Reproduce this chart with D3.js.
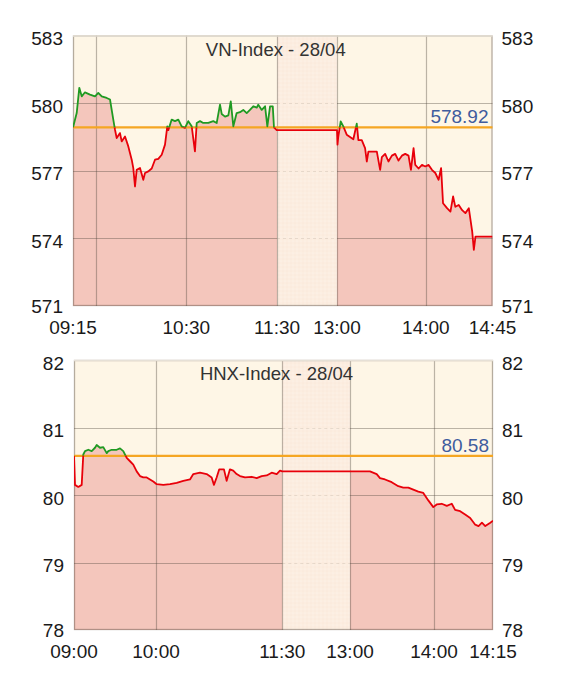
<!DOCTYPE html>
<html><head><meta charset="utf-8">
<script src="https://cdn.jsdelivr.net/npm/d3@7"></script>
<style>
body{margin:0;background:#fff;}
svg{display:block;font-family:"Liberation Sans",Arial,Helvetica,sans-serif;}
</style>
</head><body>
<svg id="c" width="569" height="675"></svg>
<script>
// ---------- DATA ----------
const vnTitle = "VN-Index - 28/04";
const vnRef = 578.92;
const vnTimes = ["09:15:00","09:17:27","09:19:10","09:20:46","09:22:56","09:26:15","09:29:34","09:31:44","09:34:00","09:37:18",
"09:39:29","09:41:40","09:42:48","09:43:55","09:46:06","09:47:13","09:49:25","09:51:36","09:53:51","09:54:54",
"09:56:02","09:57:09","09:59:20","10:01:31","10:02:39","10:04:50","10:07:05","10:09:16","10:11:27","10:13:42",
"10:15:53","10:17:24","10:18:04","10:20:18","10:22:30","10:24:42","10:26:54","10:29:06","10:31:18","10:33:33",
"10:35:42","10:36:52","10:39:03","10:41:12","10:44:32","10:47:51","10:50:06","10:52:17","10:53:24","10:55:36",
"10:57:48","10:59:24","11:01:06","11:03:18","11:05:30","11:07:42","11:09:57","11:12:06","11:14:18","11:16:36",
"11:17:36","11:19:54","11:22:06","11:23:36","11:25:24","11:27:12","11:28:00","11:29:48","11:30:00","13:00:00",
"13:00:20","13:00:53","13:02:30","13:04:16","13:06:34","13:08:48","13:11:02","13:13:21","13:14:26","13:16:44",
"13:18:58","13:20:07","13:21:12","13:23:30","13:26:54","13:29:08","13:30:17","13:32:31","13:34:45","13:37:04",
"13:39:18","13:41:32","13:43:50","13:46:04","13:48:18","13:49:56","13:51:42","13:52:51","13:55:05","13:57:23",
"13:59:37","14:01:52","14:04:06","14:06:24","14:08:36","14:10:18","14:11:36","14:14:18","14:16:36","14:18:24",
"14:19:54","14:22:12","14:24:30","14:26:42","14:29:00","14:31:18","14:32:24","14:33:30","14:45:00"];
const vnValues = [578.92,579.56,580.68,580.30,580.48,580.38,580.30,580.45,580.30,580.23,
580.16,579.27,578.82,578.45,578.67,578.30,578.52,578.08,577.49,577.12,
576.30,577.04,577.12,576.60,576.90,576.97,577.10,577.49,577.53,577.71,
578.16,578.97,578.80,579.27,579.20,579.27,578.97,578.90,579.20,578.97,
577.86,579.12,579.20,579.12,579.12,579.20,579.12,579.93,579.52,579.40,
579.46,580.08,578.97,579.56,579.60,579.70,579.56,579.70,579.86,579.80,
579.93,579.70,579.86,578.97,579.86,579.86,578.92,578.80,578.80,578.80,
578.16,578.52,579.19,578.97,578.60,578.50,578.40,579.09,578.36,578.36,
578.00,577.41,577.85,577.85,577.85,577.04,577.60,577.75,577.41,577.67,
577.75,577.45,577.67,577.75,577.67,577.04,578.00,577.26,577.10,577.26,
577.19,577.26,577.04,576.90,576.60,577.12,575.56,575.34,575.19,575.86,
575.40,575.48,575.25,575.12,575.34,574.30,573.49,574.08,574.08];
const vnYTicks = [571, 574, 577, 580, 583];
const vnXLabels = ["09:15", "10:30", "11:30", "13:00", "14:00", "14:45"];
const vnXGrid = ["09:30", "10:30", "11:30", "13:00", "14:00"];
const vnBreak = ["11:30", "13:00"];

const hnxTitle = "HNX-Index - 28/04";
const hnxRef = 80.58;
const hnxTimes = ["09:00:00","09:00:44","09:03:09","09:05:38","09:06:48","09:08:03","09:10:28","09:12:57","09:15:22","09:16:36",
"09:19:01","09:21:26","09:23:56","09:25:06","09:27:35","09:31:14","09:33:40","09:36:04","09:38:34","09:40:59",
"09:43:23","09:45:52","09:48:18","09:50:42","09:53:12","09:55:36","09:58:01","10:00:30","10:05:12","10:10:00",
"10:14:44","10:19:27","10:24:13","10:26:35","10:31:21","10:36:07","10:39:40","10:41:18","10:43:13","10:45:04",
"10:48:26","10:50:21","10:52:42","10:55:03","10:57:28","10:59:52","11:03:26","11:08:12","11:11:45","11:15:19",
"11:18:53","11:22:27","11:26:01","11:28:23","11:30:00","13:00:00","13:14:17","13:19:04","13:21:26","13:25:00",
"13:29:47","13:34:30","13:38:04","13:41:39","13:45:13","13:48:47","13:52:21","13:55:56","13:59:30","14:00:41",
"14:01:58","14:03:15","14:04:31","14:05:22","14:06:39","14:07:55","14:09:12","14:10:29","14:11:19","14:12:11",
"14:13:02","14:14:19","14:15:00"];
const hnxValues = [80.58,80.15,80.12,80.15,80.60,80.65,80.67,80.65,80.70,80.74,
80.70,80.71,80.62,80.65,80.67,80.67,80.69,80.65,80.55,80.50,
80.45,80.35,80.28,80.26,80.26,80.23,80.20,80.16,80.15,80.16,
80.18,80.21,80.23,80.31,80.33,80.31,80.26,80.15,80.26,80.38,
80.38,80.21,80.38,80.36,80.31,80.28,80.26,80.27,80.25,80.28,
80.29,80.33,80.31,80.36,80.35,80.35,80.35,80.31,80.25,80.23,
80.19,80.13,80.11,80.11,80.08,80.05,80.03,79.92,79.82,79.86,
79.87,79.84,79.87,79.78,79.76,79.71,79.66,79.56,79.54,79.59,
79.54,79.59,79.62];
const hnxYTicks = [78, 79, 80, 81, 82];
const hnxXLabels = ["09:00", "10:00", "11:30", "13:00", "14:00", "14:15"];
const hnxXGrid = ["10:00", "11:30", "13:00", "14:00"];
const hnxBreak = ["11:30", "13:00"];

// ---------- DRAW ----------
const toMin = s => { const p = s.split(":").map(Number); return p[0]*60 + p[1] + (p[2]||0)/60; };
const svg = d3.select("#c");
const defs = svg.append("defs");
const pat = defs.append("pattern").attr("id","dots").attr("width",4).attr("height",4).attr("patternUnits","userSpaceOnUse");
pat.append("rect").attr("width",4).attr("height",4).attr("fill","#fcede0");
pat.append("circle").attr("cx",1).attr("cy",1).attr("r",0.6).attr("fill","#fff8f0");
pat.append("circle").attr("cx",3).attr("cy",3).attr("r",0.5).attr("fill","#f8e4d4");

const BG = "#fef6e6", FILL = "#f4c6bc", GRID = "rgba(80,70,60,0.38)";
const FONT = 19;

function drawChart(o){
  const {id, left, right, top, bottom, title, ref, times, values, yTicks, xLabels, xGrid, brk, knots, knotFrac} = o;
  const w = right - left;
  const x = d3.scaleLinear().domain(knots.map(toMin)).range(knotFrac.map(f => left + f*w));
  const y = d3.scaleLinear().domain([yTicks[0], yTicks[yTicks.length-1]]).range([bottom, top]);
  const data = times.map((t,i) => ({t: toMin(t), v: values[i]}));
  const g = svg.append("g");

  g.append("rect").attr("x",left).attr("y",top).attr("width",w).attr("height",bottom-top).attr("fill",BG);

  const area = d3.area().x(d => x(d.t)).y0(bottom).y1(d => y(d.v));
  g.append("path").datum(data).attr("d",area).attr("fill",FILL);

  // lunch break band
  const bx0 = x(toMin(brk[0])), bx1 = x(toMin(brk[1]));
  g.append("rect").attr("x",bx0).attr("y",top).attr("width",bx1-bx0).attr("height",bottom-top).attr("fill","url(#dots)");

  // horizontal grid
  yTicks.slice(1,-1).forEach(v => {
    const yy = Math.round(y(v)) + 0.5;
    g.append("line").attr("x1",left).attr("x2",bx0).attr("y1",yy).attr("y2",yy).attr("stroke",GRID).attr("stroke-width",1.2);
    g.append("line").attr("x1",bx1).attr("x2",right).attr("y1",yy).attr("y2",yy).attr("stroke",GRID).attr("stroke-width",1.2);
    g.append("line").attr("x1",bx0).attr("x2",bx1).attr("y1",yy).attr("y2",yy).attr("stroke","rgba(80,70,60,0.12)").attr("stroke-dasharray","3,3");
  });
  // vertical grid
  xGrid.forEach(t => {
    const xx = Math.round(x(toMin(t))) + 0.5;
    g.append("line").attr("x1",xx).attr("x2",xx).attr("y1",top).attr("y2",bottom).attr("stroke",GRID).attr("stroke-width",1.2);
  });
  // frame
  g.append("rect").attr("x",left+0.5).attr("y",top+0.5).attr("width",w-1).attr("height",bottom-top-1)
    .attr("fill","none").attr("stroke","rgba(80,70,60,0.42)").attr("stroke-width",1.3);
  g.append("line").attr("x1",left).attr("x2",right).attr("y1",top+0.5).attr("y2",top+0.5).attr("stroke","#e6e0d6").attr("stroke-width",1.5);

  // title
  g.append("text").attr("x",(left+right)/2 - 7).attr("y",top+20).attr("text-anchor","middle")
    .attr("font-size",18.5).attr("fill","#333").text(title);

  // reference line
  const ry = y(ref);
  g.append("line").attr("x1",left).attr("x2",right).attr("y1",ry).attr("y2",ry).attr("stroke","#f5a623").attr("stroke-width",2.2);
  g.append("text").attr("x",right-4).attr("y",ry-4).attr("text-anchor","end").attr("font-size",FONT)
    .attr("fill","#3f5c9e").text(d3.format(".2f")(ref));

  // price line: green above ref, red below
  const line = d3.line().x(d => x(d.t)).y(d => y(d.v));
  const cu = "cu"+id, cd = "cd"+id;
  defs.append("clipPath").attr("id",cu).append("rect").attr("x",left).attr("y",top-5).attr("width",w).attr("height",ry-top+5);
  defs.append("clipPath").attr("id",cd).append("rect").attr("x",left).attr("y",ry).attr("width",w).attr("height",bottom-ry+5);
  g.append("path").datum(data).attr("d",line).attr("fill","none").attr("stroke","#1f9a22").attr("stroke-width",1.8)
    .attr("stroke-linejoin","round").attr("clip-path",`url(#${cu})`);
  g.append("path").datum(data).attr("d",line).attr("fill","none").attr("stroke","#e8000a").attr("stroke-width",1.8)
    .attr("stroke-linejoin","round").attr("clip-path",`url(#${cd})`);

  // y labels both sides
  yTicks.forEach((v,i) => {
    const dy = i === 0 ? 7 : 9.5;
    g.append("text").attr("x",left-10).attr("y",y(v)+dy).attr("text-anchor","end").attr("font-size",FONT).attr("fill","#1a1a1a").text(v);
    g.append("text").attr("x",right+9).attr("y",y(v)+dy).attr("text-anchor","start").attr("font-size",FONT).attr("fill","#1a1a1a").text(v);
  });
  // x labels
  xLabels.forEach(t => {
    g.append("text").attr("x",x(toMin(t))).attr("y",bottom+28).attr("text-anchor","middle").attr("font-size",FONT).attr("fill","#1a1a1a").text(t);
  });
}

drawChart({id:"vn", left:73, right:492.5, top:35.5, bottom:306, title:vnTitle, ref:vnRef,
  times:vnTimes, values:vnValues, yTicks:vnYTicks, xLabels:vnXLabels, xGrid:vnXGrid, brk:vnBreak,
  knots:["09:15","11:30","13:00","14:45"], knotFrac:[0, 0.4863, 0.6293, 1]});
drawChart({id:"hnx", left:74, right:493, top:360, bottom:630, title:hnxTitle, ref:hnxRef,
  times:hnxTimes, values:hnxValues, yTicks:hnxYTicks, xLabels:hnxXLabels, xGrid:hnxXGrid, brk:hnxBreak,
  knots:["09:00","10:00","11:30","13:00","14:00","14:15"], knotFrac:[0, 0.1957, 0.4971, 0.6587, 0.8592, 1]});
</script>
</body></html>
